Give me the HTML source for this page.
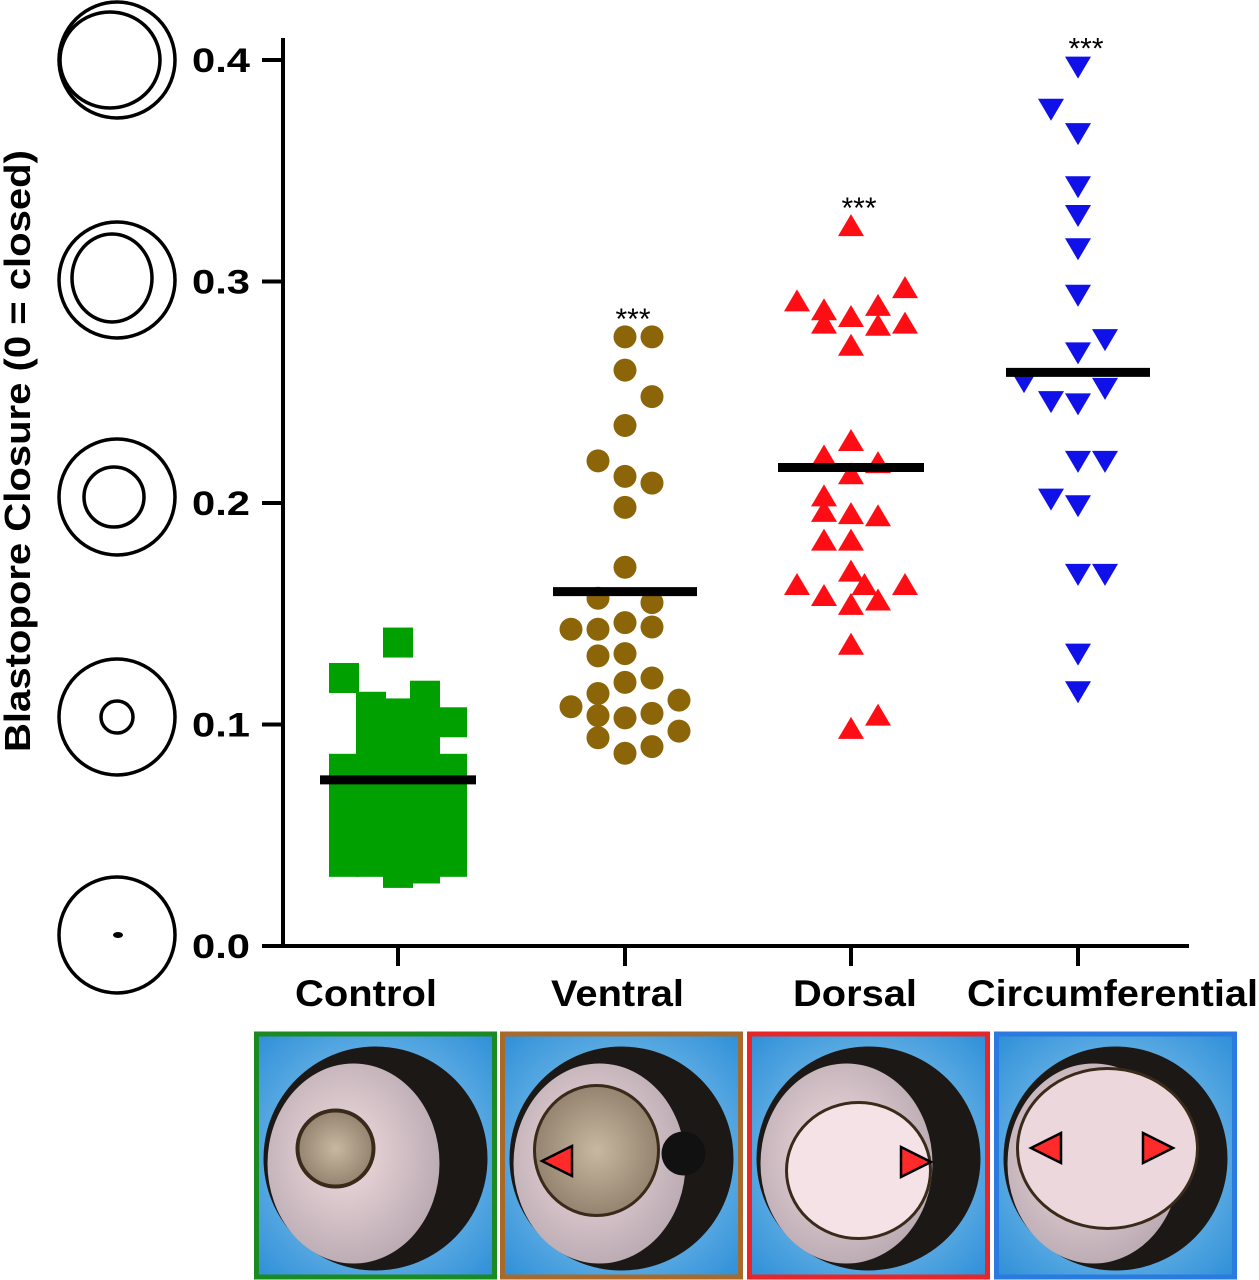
<!DOCTYPE html>
<html><head><meta charset="utf-8"><style>
html,body{margin:0;padding:0;background:#fff;width:1259px;height:1280px;overflow:hidden}
svg text{font-family:"Liberation Sans",Arial,sans-serif}
</style></head><body>
<svg id="chart" width="1259" height="1280" viewBox="0 0 1259 1280" xmlns="http://www.w3.org/2000/svg">
<defs>
<radialGradient id="bgBlue" cx="50%" cy="50%" r="70%"><stop offset="0" stop-color="#9fd6f2"/><stop offset="1" stop-color="#2f8fd8"/></radialGradient>
<radialGradient id="pinkG" cx="45%" cy="45%" r="60%"><stop offset="0" stop-color="#f2dde0"/><stop offset="1" stop-color="#b8a8b0"/></radialGradient>
<radialGradient id="yolkG" cx="50%" cy="50%" r="60%"><stop offset="0" stop-color="#c8b8a0"/><stop offset="1" stop-color="#8a7a66"/></radialGradient>
</defs>
<g id="plot"></g>
</svg>
<script>
const categories = ["Control","Ventral","Dorsal","Circumferential"];
const yTicks = [0.0,0.1,0.2,0.3,0.4];
const tickLabels = ["0.0","0.1","0.2","0.3","0.4"];
const means = [0.075,0.160,0.216,0.259];
const sigLabels = ["","***","***","***"];
const controlVals = [0.137,0.121,0.080,0.070,0.060,0.050,0.038,0.108,0.095,0.085,0.075,0.065,0.055,0.045,0.038,0.105,0.098,0.088,0.080,0.070,0.060,0.050,0.040,0.033,0.113,0.100,0.090,0.080,0.070,0.060,0.050,0.040,0.035,0.101,0.080,0.070,0.060,0.050,0.038];
const controlCols = [0,-2,-2,-2,-2,-2,-2,-1,-1,-1,-1,-1,-1,-1,-1,0,0,0,0,0,0,0,0,0,1,1,1,1,1,1,1,1,1,2,2,2,2,2,2];
const ventralVals = [0.275,0.275,0.260,0.248,0.235,0.219,0.212,0.209,0.198,0.171,0.157,0.155,0.146,0.143,0.143,0.144,0.131,0.132,0.119,0.121,0.114,0.108,0.104,0.103,0.105,0.111,0.097,0.094,0.087,0.090];
const ventralCols = [0,1,0,1,0,-1,0,1,0,0,-1,1,0,-1,-2,1,-1,0,0,1,-1,-2,-1,0,1,2,2,-1,0,1];
const dorsalVals = [0.325,0.291,0.287,0.281,0.284,0.289,0.280,0.297,0.281,0.271,0.228,0.221,0.218,0.213,0.203,0.196,0.195,0.194,0.183,0.183,0.169,0.163,0.158,0.163,0.163,0.154,0.156,0.136,0.098,0.104];
const dorsalCols = [0,-2,-1,-1,0,1,1,2,2,0,0,-1,1,0,-1,-1,0,1,-1,0,0,-2,-1,0.5,2,0,1,0,0,1];
const circVals = [0.397,0.378,0.367,0.343,0.330,0.315,0.294,0.274,0.268,0.255,0.246,0.245,0.252,0.219,0.219,0.202,0.199,0.168,0.168,0.132,0.115];
const circCols = [0,-1,0,0,0,0,0,1,0,-2,-1,0,1,0,1,-1,0,0,1,0,0];

const NS="http://www.w3.org/2000/svg";
const g=document.getElementById('plot');
const cx=[398,625,851,1078];
const colW=27;
function yS(v){return 946-v*2215;}
function xS(ci,col){return cx[ci]+col*colW;}
function mk(tag,attrs,parent){const e=document.createElementNS(NS,tag);for(const k in attrs)e.setAttribute(k,attrs[k]);(parent||g).appendChild(e);return e;}

let e=mk('line',{x1:283,y1:38,x2:283,y2:947,stroke:'#000','stroke-width':4});


e=mk('line',{x1:281,y1:946,x2:1189,y2:946,stroke:'#000','stroke-width':4});


yTicks.forEach((t,i)=>{
  let l=mk('line',{x1:262,y1:yS(t),x2:283,y2:yS(t),stroke:'#000','stroke-width':4});
  
  
  let tx=mk('text',{x:192,y:yS(t)+12,'font-size':34,'font-weight':'bold',textLength:58,lengthAdjust:'spacingAndGlyphs'});
  tx.textContent=tickLabels[i];
  
  
});
const labX=[295,551,793,967], labW=[142,133,124,291];
categories.forEach((c,i)=>{
  let l=mk('line',{x1:cx[i],y1:946,x2:cx[i],y2:966,stroke:'#000','stroke-width':4});
  
  
  let tx=mk('text',{x:labX[i],y:1006,'font-size':37,'font-weight':'bold',textLength:labW[i],lengthAdjust:'spacingAndGlyphs'});
  tx.textContent=c;
  
  
});
let yt=mk('text',{x:-752,y:30,'font-size':36,'font-weight':'bold',transform:'rotate(-90)',textLength:602,lengthAdjust:'spacingAndGlyphs'});
yt.textContent='Blastopore Closure (0 = closed)';



controlVals.forEach((v,i)=>{
  let r=mk('rect',{x:xS(0,controlCols[i])-15,y:yS(v)-15,width:30,height:30,fill:'#00a000'});
  
  
});
ventralVals.forEach((v,i)=>{
  let c=mk('circle',{cx:xS(1,ventralCols[i]),cy:yS(v),r:11.5,fill:'#8b6508'});
  
  
});
dorsalVals.forEach((v,i)=>{
  const x=xS(2,dorsalCols[i]),y=yS(v);
  let p=mk('polygon',{points:`${x},${y-12} ${x-13},${y+10} ${x+13},${y+10}`,fill:'#ff0d14'});
  
  
});
circVals.forEach((v,i)=>{
  const x=xS(3,circCols[i]),y=yS(v);
  let p=mk('polygon',{points:`${x-13},${y-10} ${x+13},${y-10} ${x},${y+12}`,fill:'#1010e8'});
  
  
});
const mhw=[78,72,73,72];
means.forEach((m,i)=>{
  let l=mk('line',{x1:cx[i]-mhw[i],y1:yS(m),x2:cx[i]+mhw[i],y2:yS(m),stroke:'#000','stroke-width':9});
  
  
  if(sigLabels[i]){
    const top=Math.max(...[controlVals,ventralVals,dorsalVals,circVals][i]);
    let s=mk('text',{x:cx[i]+8,y:yS(top)-8,'text-anchor':'middle','font-size':30});
    s.textContent=sigLabels[i];
    
    
  }
});

const iconY=[60,280,497,717,935];
const innerR=[[56,50],[40,44],[30,30],[16,16],[2,2]];
iconY.forEach((y,i)=>{
  const gi=mk('g',{});
  
  
  mk('ellipse',{cx:117,cy:y,rx:58,ry:58,fill:'none',stroke:'#000','stroke-width':3.5},gi);
  if(i<4) mk('ellipse',{cx:i==0?110:i==1?112:i==2?114:117,cy:y+(i==1?-2:0),rx:innerR[i][0]-(i==0?6:0),ry:innerR[i][1]-(i==0?2:0),fill:'none',stroke:'#000','stroke-width':3.5},gi);
  else mk('ellipse',{cx:118,cy:y,rx:5,ry:3,fill:'#000'},gi);
});

const frames=[{x:254,c:'#1b8a22'},{x:500,c:'#a86a2a'},{x:747,c:'#e8262a'},{x:994,c:'#2a7ae0'}];
frames.forEach((f,i)=>{
  const gp=mk('g',{});
  
  
  const w=243,h=245,y=1034;
  mk('rect',{x:f.x+2.5,y:y,width:w-5,height:h-2,fill:'url(#bgBlue)',stroke:f.c,'stroke-width':5},gp);
  const ccx=f.x+w/2, ccy=y+h/2+2;
  mk('circle',{cx:ccx,cy:ccy,r:112,fill:'#1c1816'},gp);
  mk('ellipse',{cx:ccx-22,cy:ccy+5,rx:86,ry:100,fill:'url(#pinkG)'},gp);
  if(i==0) mk('circle',{cx:ccx-40,cy:ccy-10,r:38,fill:'url(#yolkG)',stroke:'#3a2a1a','stroke-width':4},gp);
  if(i==1) {mk('ellipse',{cx:ccx-25,cy:ccy-8,rx:62,ry:65,fill:'url(#yolkG)',stroke:'#3a2a1a','stroke-width':3},gp);mk('circle',{cx:ccx+62,cy:ccy-5,r:22,fill:'#111'},gp);}
  if(i==2) mk('ellipse',{cx:ccx-10,cy:ccy+12,rx:72,ry:68,fill:'#f4e2e6',stroke:'#3a2a1a','stroke-width':3},gp);
  if(i==3) mk('ellipse',{cx:ccx-8,cy:ccy-10,rx:90,ry:80,fill:'#ecd8dc',stroke:'#3a2a1a','stroke-width':3},gp);
});
function arrow(x,y,dir){
  const p=dir>0?`${x-15},${y-15} ${x+15},${y} ${x-15},${y+15}`:`${x+15},${y-15} ${x-15},${y} ${x+15},${y+15}`;
  let a=mk('polygon',{points:p,fill:'#ff2a2a',stroke:'#000','stroke-width':2.5});
  
  
}
arrow(557,1161,-1); arrow(916,1162,1); arrow(1046,1148,-1); arrow(1158,1148,1);
</script>
</body></html>
